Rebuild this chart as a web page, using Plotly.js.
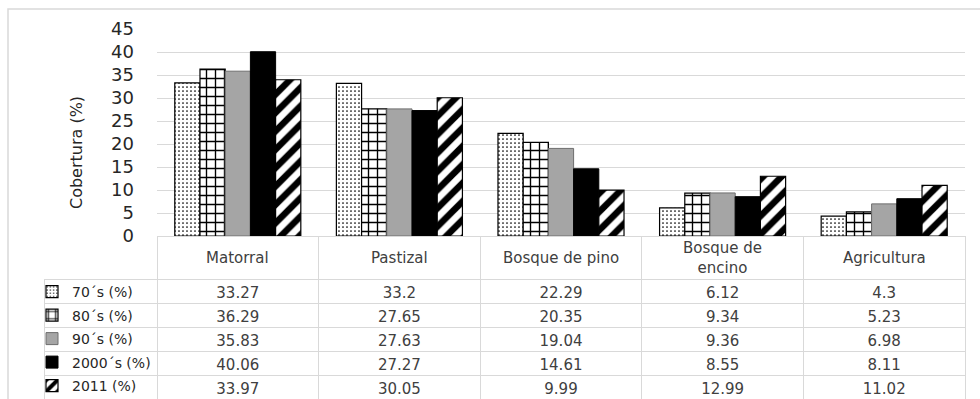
<!DOCTYPE html>
<html>
<head>
<meta charset="utf-8">
<script src="https://cdn.plot.ly/plotly-3.0.1.min.js"></script>
<style>html,body{margin:0;padding:0;background:#fff;}#chart{width:980px;height:399px;}</style>
</head>
<body>
<div id="chart"></div>
<script>
// ---- data ----
var categories = ["Matorral", "Pastizal", "Bosque de pino", "Bosque de<br>encino", "Agricultura"];
var seriesNames = ["70´s (%)", "80´s (%)", "90´s (%)", "2000´s (%)", "2011 (%)"];
var s70 = [33.27, 33.2, 22.29, 6.12, 4.3];
var s80 = [36.29, 27.65, 20.35, 9.34, 5.23];
var s90 = [35.83, 27.63, 19.04, 9.36, 6.98];
var s2000 = [40.06, 27.27, 14.61, 8.55, 8.11];
var s2011 = [33.97, 30.05, 9.99, 12.99, 11.02];
var yTicks = [0, 5, 10, 15, 20, 25, 30, 35, 40, 45];
var yTitle = "Cobertura (%)";

var seriesValues = [s70, s80, s90, s2000, s2011];

// ---- styles ----
var W = 980, H = 399;
var mL = 44, mR = 15, mT = 29, mB = 0;
var pw = W - mL - mR, ph = H - mT - mB;
var plotLeftPx = 157, plotBottomPx = 236;
var xDom0 = (plotLeftPx - mL) / pw;
var yDom0 = (H - plotBottomPx) / ph;
var FONT = "DejaVu Sans, sans-serif";
var TXT = "#404040";
var GRID = "#d9d9d9";

var markerStyles = [
  {color: "white", line: {color: "black", width: 1.2}, pattern: {shape: ".", fgcolor: "black", bgcolor: "white", size: 4, solidity: 0.15}},
  {color: "white", line: {color: "black", width: 1.2}, pattern: {shape: "+", fgcolor: "black", bgcolor: "white", size: 9, solidity: 0.28}},
  {color: "#a5a5a5", line: {color: "#6e6e6e", width: 1}},
  {color: "black", line: {color: "black", width: 1}},
  {color: "white", line: {color: "black", width: 1.2}, pattern: {shape: "/", fgcolor: "black", bgcolor: "white", size: 13, solidity: 0.5}}
];

var traces = seriesValues.map(function (vals, i) {
  return {
    type: "bar",
    name: seriesNames[i],
    x: categories,
    y: vals,
    marker: markerStyles[i],
    legendgroup: "g" + i,
    hoverinfo: "skip"
  };
});

// data table below the chart
var tableCols = [seriesNames.map(function () { return ""; })];
categories.forEach(function (c, j) {
  tableCols.push(seriesValues.map(function (s) { return String(s[j]); }));
});
var catW = (W - mR - plotLeftPx) / categories.length;
var colW = [plotLeftPx - mL].concat(categories.map(function () { return catW; }));
var headerLine = ["rgba(0,0,0,0)"].concat(categories.map(function () { return GRID; }));
var headerFill = ["rgba(0,0,0,0)"].concat(categories.map(function () { return "white"; }));

traces.push({
  type: "table",
  domain: {x: [0, 1], y: [0, yDom0]},
  columnwidth: colW,
  header: {
    values: colW.map(function () { return ""; }),
    height: 43,
    line: {color: headerLine, width: 1},
    fill: {color: headerFill}
  },
  cells: {
    values: tableCols,
    height: 24,
    align: "center",
    line: {color: GRID, width: 1},
    fill: {color: "white"},
    font: {family: FONT, size: 15, color: TXT}
  },
  hoverinfo: "skip"
});

var annotations = categories.map(function (c) {
  return {
    x: c, xref: "x", y: (H - 257.5 - mB) / ph, yref: "paper",
    text: c, showarrow: false, xanchor: "center", yanchor: "middle",
    font: {family: FONT, size: 15, color: TXT}
  };
});
annotations.push({
  x: (76 - mL) / pw, xref: "paper", y: (H - 153) / ph, yref: "paper",
  text: yTitle, textangle: -90, showarrow: false, xanchor: "center", yanchor: "middle",
  font: {family: FONT, size: 16, color: "#262626"}
});

var layout = {
  width: W, height: H,
  margin: {l: mL, r: mR, t: mT, b: mB, pad: 0, autoexpand: false},
  paper_bgcolor: "white", plot_bgcolor: "white",
  barmode: "group",
  bargap: 0.22,
  bargroupgap: 0,
  font: {family: FONT, color: TXT},
  xaxis: {
    domain: [xDom0, 1],
    showticklabels: false,
    showgrid: false, zeroline: false, showline: false, ticks: "",
    fixedrange: true
  },
  yaxis: {
    domain: [yDom0, 1],
    range: [0, 45],
    tickvals: yTicks,
    showgrid: true, gridcolor: GRID, gridwidth: 1,
    zeroline: false, showline: false, ticks: "",
    ticklabelstandoff: 22,
    tickfont: {family: FONT, size: 18, color: "#262626"},
    fixedrange: true
  },
  showlegend: true,
  legend: {
    x: -12 / pw, xanchor: "left", y: (H - 276) / ph, yanchor: "top",
    font: {family: FONT, size: 14, color: "#262626"},
    bgcolor: "rgba(0,0,0,0)", borderwidth: 0,
    tracegroupgap: 2.3, itemwidth: 30, traceorder: "grouped",
    itemclick: false, itemdoubleclick: false
  },
  annotations: annotations,
  shapes: [{
    type: "rect", xref: "paper", yref: "paper",
    x0: (8 - mL) / pw, x1: 1.1, y0: -0.1, y1: (H - 9) / ph,
    line: {color: GRID, width: 1.5}, fillcolor: "rgba(0,0,0,0)", layer: "below"
  }]
};

Plotly.newPlot("chart", traces, layout, {displayModeBar: false, staticPlot: true});
</script>
</body>
</html>
